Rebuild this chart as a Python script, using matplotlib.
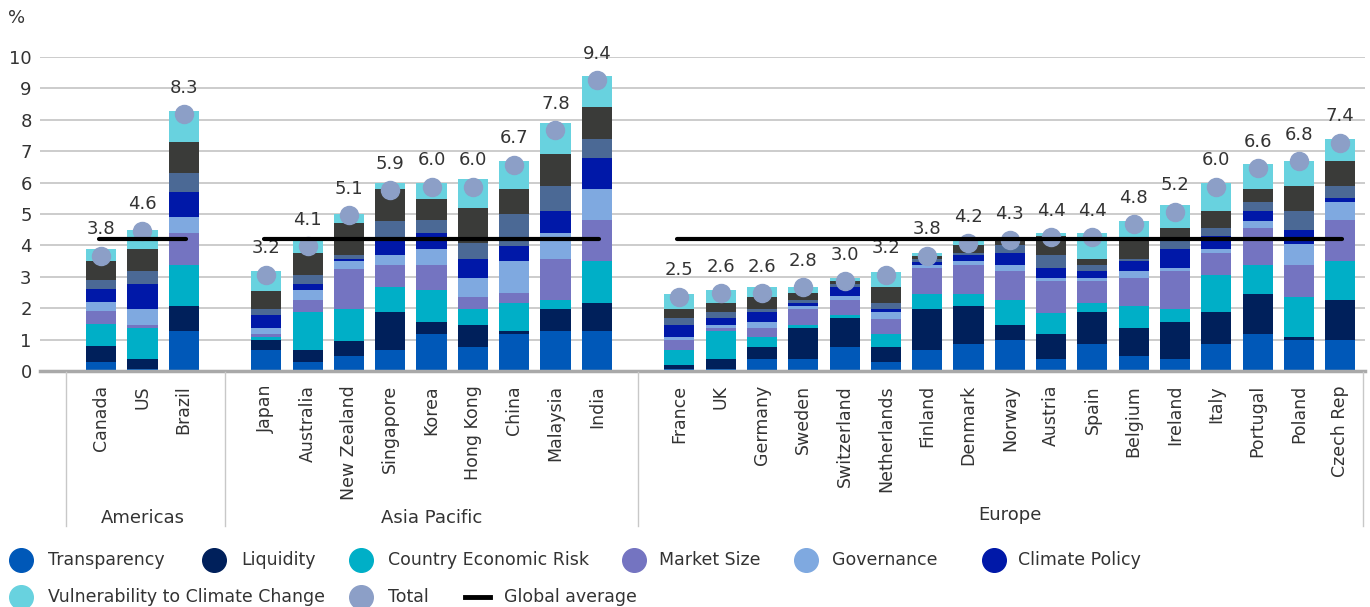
import matplotlib
matplotlib.use("Agg")
import matplotlib.pyplot as plt
import matplotlib.transforms as mtransforms
from matplotlib.lines import Line2D
import numpy as np

plt.rcParams['font.family'] = ['DejaVu Sans']
plt.rcParams['text.color'] = '#333333'

regions = ['Americas', 'Asia Pacific', 'Europe']
region_sizes = [3, 9, 17]

countries = ['Canada', 'US', 'Brazil',
             'Japan', 'Australia', 'New Zealand', 'Singapore', 'Korea', 'Hong Kong', 'China', 'Malaysia', 'India',
             'France', 'UK', 'Germany', 'Sweden', 'Switzerland', 'Netherlands', 'Finland', 'Denmark', 'Norway',
             'Austria', 'Spain', 'Belgium', 'Ireland', 'Italy', 'Portugal', 'Poland', 'Czech Rep']

transparency = [0.30, 0.06, 1.28,
                0.67, 0.29, 0.48, 0.67, 1.18, 0.77, 1.18, 1.28, 1.28,
                0.06, 0.06, 0.37, 0.37, 0.76, 0.28, 0.66, 0.85, 0.98, 0.37, 0.85, 0.48, 0.38, 0.86, 1.18, 0.99, 0.99]
liquidity = [0.50, 0.32, 0.80,
             0.32, 0.38, 0.48, 1.22, 0.39, 0.70, 0.10, 0.70, 0.89,
             0.13, 0.31, 0.39, 0.99, 0.92, 0.48, 1.31, 1.22, 0.48, 0.80, 1.03, 0.90, 1.19, 1.03, 1.28, 0.10, 1.28]
economic_risk = [0.70, 1.00, 1.31,
                 0.10, 1.22, 1.02, 0.80, 1.02, 0.51, 0.89, 0.29, 1.32,
                 0.47, 0.90, 0.32, 0.10, 0.10, 0.41, 0.48, 0.38, 0.80, 0.67, 0.28, 0.70, 0.41, 1.18, 0.93, 1.28, 1.22]
market_size = [0.40, 0.10, 0.99,
               0.09, 0.38, 1.28, 0.70, 0.80, 0.39, 0.32, 1.31, 1.31,
               0.32, 0.09, 0.28, 0.51, 0.48, 0.48, 0.83, 0.94, 0.94, 1.03, 0.71, 0.89, 1.19, 0.68, 1.18, 1.02, 1.31]
governance = [0.30, 0.50, 0.51,
              0.20, 0.32, 0.23, 0.29, 0.48, 0.60, 1.00, 0.80, 0.99,
              0.10, 0.10, 0.20, 0.10, 0.13, 0.23, 0.10, 0.10, 0.19, 0.10, 0.10, 0.23, 0.12, 0.15, 0.21, 0.67, 0.57]
climate_policy = [0.40, 0.80, 0.80,
                  0.41, 0.19, 0.09, 0.45, 0.51, 0.61, 0.48, 0.71, 0.99,
                  0.38, 0.22, 0.32, 0.09, 0.29, 0.09, 0.10, 0.19, 0.38, 0.32, 0.23, 0.29, 0.58, 0.39, 0.31, 0.42, 0.13]
steel_part = [0.30, 0.40, 0.61,
              0.19, 0.29, 0.10, 0.64, 0.42, 0.51, 1.02, 0.79, 0.61,
              0.22, 0.20, 0.09, 0.10, 0.10, 0.19, 0.09, 0.09, 0.23, 0.39, 0.19, 0.09, 0.29, 0.28, 0.28, 0.61, 0.38]
charcoal_part = [0.60, 0.69, 0.99,
                 0.58, 0.70, 1.02, 1.02, 0.67, 1.09, 0.80, 1.03, 1.02,
                 0.29, 0.28, 0.39, 0.22, 0.10, 0.52, 0.10, 0.23, 0.13, 0.61, 0.19, 0.58, 0.41, 0.52, 0.42, 0.79, 0.80]
vulnerability = [0.40, 0.61, 0.99,
                 0.61, 0.39, 0.29, 0.19, 0.51, 0.93, 0.89, 0.99, 0.99,
                 0.48, 0.42, 0.32, 0.20, 0.07, 0.48, 0.09, 0.13, 0.12, 0.09, 0.80, 0.61, 0.71, 0.89, 0.80, 0.80, 0.71]

totals = [3.8, 4.6, 8.3,
          3.2, 4.1, 5.1, 5.9, 6.0, 6.0, 6.7, 7.8, 9.4,
          2.5, 2.6, 2.6, 2.8, 3.0, 3.2, 3.8, 4.2, 4.3, 4.4, 4.4, 4.8, 5.2, 6.0, 6.6, 6.8, 7.4]
global_average = 4.2

segments = [
    ('Transparency', transparency, '#0058b8'),
    ('Liquidity', liquidity, '#00205b'),
    ('Country Economic Risk', economic_risk, '#00afc7'),
    ('Market Size', market_size, '#7474c1'),
    ('Governance', governance, '#7fa9e0'),
    ('Climate Policy', climate_policy, '#0018a8'),
    (None, steel_part, '#4b6995'),
    (None, charcoal_part, '#3a3b39'),
    ('Vulnerability to Climate Change', vulnerability, '#68d2df'),
]

# one empty slot between regions
x = []
group_slots = []
pos = 0
for n in region_sizes:
    group_slots.append(list(range(pos, pos + n)))
    x.extend(range(pos, pos + n))
    pos += n + 1
x = np.array(x)

fig = plt.figure(figsize=(13.7, 6.07), dpi=100)
ax = fig.add_axes([40 / 1370, 1 - 371 / 607, 1325 / 1370, 314 / 607])

bottom = np.zeros(len(countries))
for name, vals, color in segments:
    ax.bar(x, vals, width=0.73, bottom=bottom, color=color, zorder=2)
    bottom += np.array(vals)

# total dots sit a touch below the value, labels above
dot_shift = mtransforms.offset_copy(ax.transData, fig=fig, x=0, y=-4, units='dots')
ax.plot(x, totals, 'o', color='#8c9fc7', markersize=13, zorder=4, transform=dot_shift)
for xi, t in zip(x, totals):
    ax.annotate('%.1f' % t, (xi, t), xytext=(0, 16), textcoords='offset points',
                ha='center', va='center', fontsize=13, color='#333333', annotation_clip=False)

# global average per region
for slots in group_slots:
    ax.plot([slots[0] - 0.05, slots[-1] + 0.05], [global_average, global_average],
            color='black', lw=3, zorder=5, solid_capstyle='round')

ax.set_xlim(-1.48, 30.6)
ax.set_ylim(0, 10)
ax.set_yticks(range(0, 11))
ax.grid(axis='y', color='#c8c8c8', lw=1.3, zorder=0)
ax.tick_params(axis='y', length=0, labelsize=13, pad=6, labelcolor='#333333')
for s in ['top', 'right', 'left']:
    ax.spines[s].set_visible(False)
ax.spines['bottom'].set_color('#a9a9a9')
ax.spines['bottom'].set_linewidth(2.5)
ax.spines['bottom'].set_zorder(3)

ax.set_xticks(x)
ax.set_xticklabels(countries, rotation=90, fontsize=12.5, va='top', ha='center')
ax.tick_params(axis='x', length=0, pad=10, labelcolor='#333333')

fig.text(17 / 1370, 1 - 18 / 607, '%', fontsize=13, ha='center', va='center')

# region separators and names
blend = mtransforms.blended_transform_factory(ax.transData, fig.transFigure)
for sx in [-0.85, 3, 13, 30.56]:
    fig.add_artist(Line2D([sx, sx], [1 - 372 / 607, 1 - 526 / 607], transform=blend, color='#c8c8c8', lw=1))
for name, slots, ypx in zip(regions, group_slots, [518, 518, 515]):
    fig.text((slots[0] + slots[-1]) / 2, 1 - ypx / 607, name, transform=blend,
             fontsize=13, ha='center', va='center')

# legend laid out in two rows
legend_row1 = [('Transparency', '#0058b8', 21, 48), ('Liquidity', '#00205b', 214, 241),
               ('Country Economic Risk', '#00afc7', 361, 388), ('Market Size', '#7474c1', 634, 659),
               ('Governance', '#7fa9e0', 806, 832), ('Climate Policy', '#0018a8', 994, 1018)]
legend_row2 = [('Vulnerability to Climate Change', '#68d2df', 21, 48), ('Total', '#8c9fc7', 361, 388)]
for row, ypx in [(legend_row1, 560), (legend_row2, 597)]:
    yf = 1 - ypx / 607
    for label, color, mx, tx in row:
        fig.add_artist(Line2D([mx / 1370], [yf], marker='o', markersize=17, color=color, lw=0))
        fig.text(tx / 1370, yf, label, fontsize=12.5, ha='left', va='center')
fig.add_artist(Line2D([465 / 1370, 490 / 1370], [1 - 597 / 607] * 2, color='black', lw=3.5))
fig.text(504 / 1370, 1 - 597 / 607, 'Global average', fontsize=12.5, ha='left', va='center')

plt.savefig('out.png', dpi=100)
